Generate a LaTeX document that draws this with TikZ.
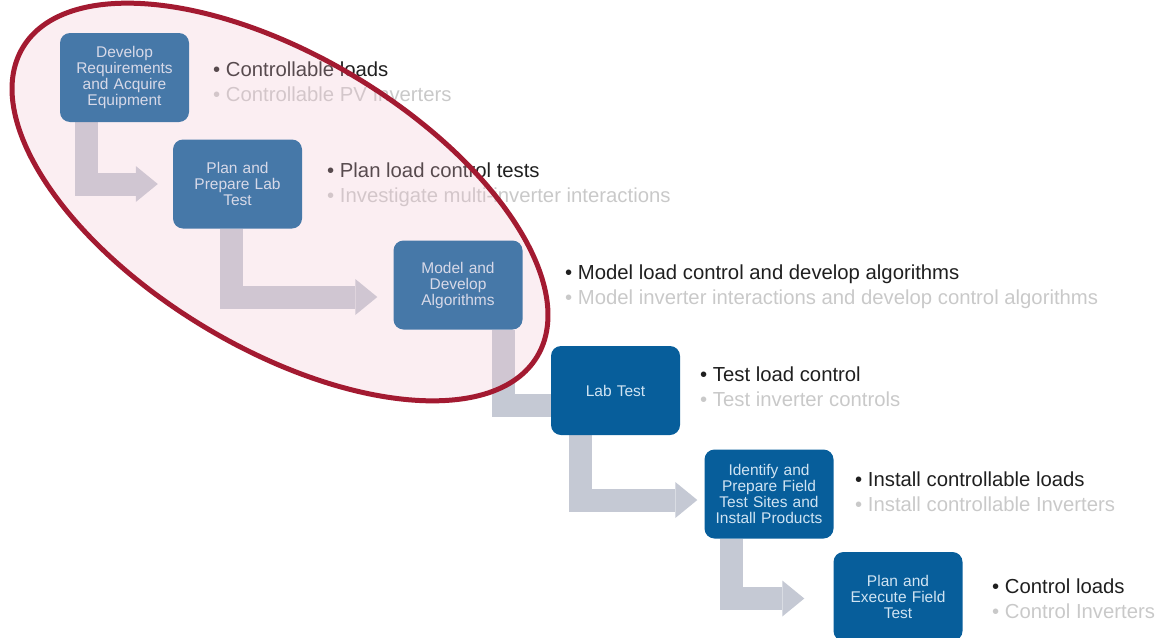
\documentclass[tikz,border=0pt]{standalone}
\usepackage{fontspec}
\setmainfont{Liberation Sans}
\usetikzlibrary{arrows.meta, positioning}

\definecolor{stepblue}{HTML}{075E9B}
\definecolor{steptext}{HTML}{CFE3F2}
\definecolor{flowgray}{HTML}{C5C9D4}
\definecolor{ringred}{HTML}{A31A31}
\definecolor{ringpink}{HTML}{F0C0CE}
\definecolor{notedark}{HTML}{1F1F1F}
\definecolor{notelight}{HTML}{C9C9C9}

\pgfdeclarelayer{bg}
\pgfsetlayers{bg,main}

\tikzset{
  stepbox/.style={fill=stepblue, text=steptext, rounded corners=10pt,
    minimum width=129pt, minimum height=89pt, text width=124pt, align=center,
    inner sep=0pt, font=\fontsize{15.5}{16}\selectfont},
  note/.style={anchor=west, inner sep=0pt, align=left,
    font=\fontsize{20.3}{25}\selectfont},
  flow/.style={draw=flowgray, line width=23pt,
    -{Triangle[width=36pt, length=22pt, line width=0pt]}},
}
\newcommand{\twolines}[2]{\textcolor{notedark}{\textbullet\ #1}\\
  \textcolor{notelight}{\textbullet\ #2}}

\begin{document}
\begin{tikzpicture}[x=1pt, y=-1pt]
\useasboundingbox (0,0) rectangle (1155,637);
\clip (0,0) rectangle (1155,637);
% steps
\node[stepbox] (b1) at (124.5,77.5) {Develop\\Requirements\\and Acquire\\Equipment};
\node[stepbox] (b2) at (237.5,184)  {Plan and\\Prepare Lab\\Test};
\node[stepbox] (b3) at (458,285)    {Model and\\Develop\\Algorithms};
\node[stepbox] (b4) at (615.5,390.5) {Lab Test};
\node[stepbox] (b5) at (769,494)    {Identify and\\Prepare Field\\Test Sites and\\Install Products};
\node[stepbox] (b6) at (898,596.5)  {Plan and\\Execute Field\\Test};
% notes
\node[note] (t1) at (213,81.5) {\twolines{Controllable loads}{Controllable PV Inverters}};
\node[note] (t2) at (327,185)  {\twolines{Plan load control tests}{Investigate multi-inverter interactions}};
\node[note] (t3) at (565,286.5) {\twolines{Model load control and develop algorithms}{Model inverter interactions and develop control algorithms}};
\node[note] (t4) at (700,386.5) {\twolines{Test load control}{Test inverter controls}};
\node[note] (t5) at (855,492)  {\twolines{Install controllable loads}{Install controllable Inverters}};
\node[note] (t6) at (992,599)  {\twolines{Control loads}{Control Inverters}};
% arrows
\begin{pgfonlayer}{bg}
\draw[flow, shorten >=15pt] ([xshift=27pt]b1.south west) |- (b2.west);
\draw[flow, shorten >=16pt] ([xshift=59pt]b2.south west) |- ([yshift=-12pt]b3.west);
\draw[flow, shorten >=-25pt] ([xshift=110pt]b3.south west) |- ([yshift=-15pt]b4.west);
\draw[flow, shorten >=7pt] ([xshift=30pt]b4.south west) |- ([yshift=-6pt]b5.west);
\draw[flow, shorten >=29pt] ([xshift=27pt]b5.south west) |- ([yshift=-2pt]b6.west);
\end{pgfonlayer}
% ring
\begin{scope}[shift={(280,202)}, rotate=-31]
  \draw[draw=ringred, line width=5pt, fill=ringpink, fill opacity=0.27] (0,0) ellipse (300pt and 146pt);
\end{scope}
\end{tikzpicture}
\end{document}
